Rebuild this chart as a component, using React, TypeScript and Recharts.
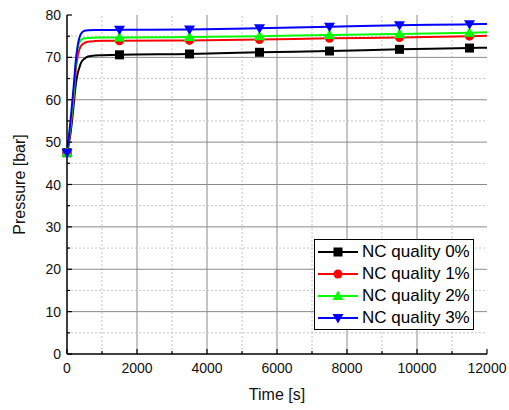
import React from 'react';
import { LineChart, Line, XAxis, YAxis, ReferenceLine, Legend } from 'recharts';

// time [s] and pressure [bar]
const times = [0, 50, 100, 150, 200, 250, 300, 350, 400, 500, 600, 800, 1000, 1500, 3500, 5500, 7500, 9500, 11500, 12000];
const nc0 = [47.5, 49.5, 52, 55.5, 59.5, 63.5, 66, 67.5, 68.7, 69.7, 70.2, 70.45, 70.5, 70.6, 70.8, 71.2, 71.5, 71.9, 72.2, 72.3];
const nc1 = [47.5, 50, 53, 57, 61.5, 67, 70, 71.8, 72.7, 73.4, 73.7, 73.85, 73.9, 73.9, 74.0, 74.2, 74.5, 74.7, 75.0, 75.1];
const nc2 = [47.5, 50.5, 54, 58, 62.5, 68.5, 72, 73.5, 74.1, 74.5, 74.6, 74.65, 74.7, 74.7, 74.8, 75.0, 75.3, 75.5, 75.8, 75.9];
const nc3 = [47.5, 51, 55, 59.5, 64, 69, 72.5, 74.5, 75.6, 76.3, 76.4, 76.45, 76.45, 76.5, 76.6, 76.9, 77.2, 77.6, 77.8, 77.9];

const markerTimes = [0, 1500, 3500, 5500, 7500, 9500, 11500];
const xTicks = [0, 1000, 2000, 3000, 4000, 5000, 6000, 7000, 8000, 9000, 10000, 11000, 12000];
const yTicks = [0, 5, 10, 15, 20, 25, 30, 35, 40, 45, 50, 55, 60, 65, 70, 75, 80];

const series = [
  { key: 'nc0', name: 'NC quality 0%', color: '#000000', shape: 'square' },
  { key: 'nc1', name: 'NC quality 1%', color: '#ff0000', shape: 'circle' },
  { key: 'nc2', name: 'NC quality 2%', color: '#00ff00', shape: 'up' },
  { key: 'nc3', name: 'NC quality 3%', color: '#0000ff', shape: 'down' },
];

const data = times.map((t, i) => ({ t, nc0: nc0[i], nc1: nc1[i], nc2: nc2[i], nc3: nc3[i] }));

const Marker = ({ shape, color, cx, cy }: any) => {
  if (shape === 'square') return <rect x={cx - 4.5} y={cy - 4.5} width={9} height={9} fill={color} />;
  if (shape === 'circle') return <circle cx={cx} cy={cy} r={4.5} fill={color} />;
  if (shape === 'up')
    return <polygon points={`${cx},${cy - 5.5} ${cx + 5.5},${cy + 4} ${cx - 5.5},${cy + 4}`} fill={color} />;
  return <polygon points={`${cx},${cy + 5.5} ${cx + 5.5},${cy - 4} ${cx - 5.5},${cy - 4}`} fill={color} />;
};

const makeDot = (shape: string, color: string) => (props: any) => {
  const { cx, cy, payload, index } = props;
  if (cx == null || !markerTimes.includes(payload.t)) return <g key={`d${index}`} />;
  return (
    <g key={`d${index}`}>
      <Marker shape={shape} color={color} cx={cx} cy={cy} />
    </g>
  );
};

const LeftTick = ({ x, y, payload }: any) => {
  const major = payload.value % 10 === 0;
  const ax = x + 6;
  return (
    <g>
      <line x1={ax} x2={ax + (major ? 5 : 3)} y1={y} y2={y} stroke="#000" strokeWidth={1.2} />
      {major && (
        <text x={x} y={y} dy="0.36em" textAnchor="end" fontSize={14} fill="#111">
          {payload.value}
        </text>
      )}
    </g>
  );
};

const BottomTick = ({ x, y, payload }: any) => {
  const major = payload.value % 2000 === 0;
  const ay = y - 8;
  return (
    <g>
      <line x1={x} x2={x} y1={ay} y2={ay - (major ? 5 : 3)} stroke="#000" strokeWidth={1.2} />
      {major && (
        <text x={x} y={y} dy="0.78em" textAnchor="middle" fontSize={14} fill="#111">
          {payload.value}
        </text>
      )}
    </g>
  );
};

const RightTick = ({ x, y, payload }: any) => {
  const major = payload.value % 10 === 0;
  return <line x1={x} x2={x - (major ? 5 : 3)} y1={y} y2={y} stroke="#444" strokeWidth={1.2} />;
};

const TopTick = ({ x, y, payload }: any) => {
  const major = payload.value % 2000 === 0;
  return <line x1={x} x2={x} y1={y} y2={y + (major ? 5 : 3)} stroke="#444" strokeWidth={1.2} />;
};

const LegendBox = () => (
  <div
    style={{
      border: '1px solid #000',
      background: '#fff',
      width: 158,
      paddingTop: 1,
      fontSize: 17,
      color: '#000',
      lineHeight: '22px',
    }}
  >
    {series.map((s) => (
      <div key={s.key} style={{ display: 'flex', alignItems: 'center', height: 22 }}>
        <svg width={42} height={22} style={{ marginLeft: 2, flex: 'none' }}>
          <line x1={1} x2={41} y1={11} y2={11} stroke={s.color} strokeWidth={2} />
          <Marker shape={s.shape} color={s.color} cx={21} cy={11} />
        </svg>
        <span style={{ marginLeft: 3, whiteSpace: 'nowrap' }}>{s.name}</span>
      </div>
    ))}
  </div>
);

export default function App() {
  return (
    <div style={{ width: 509, height: 410, background: '#fff', fontFamily: '"Liberation Sans", Arial, sans-serif' }}>
      <style>{`body{margin:0}`}</style>
      <LineChart width={509} height={410} data={data} margin={{ top: 15, right: 22, bottom: 6, left: 5 }}>
        <XAxis
          dataKey="t"
          type="number"
          domain={[0, 12000]}
          ticks={xTicks}
          interval={0}
          tickSize={0}
          tickMargin={8}
          tickLine={false}
          tick={BottomTick}
          height={50}
          axisLine={{ stroke: '#000', strokeWidth: 1.5 }}
          label={{ value: 'Time [s]', position: 'insideBottom', offset: 4, fontSize: 16, fill: '#111' }}
        />
        <XAxis
          xAxisId="top"
          orientation="top"
          type="number"
          domain={[0, 12000]}
          ticks={xTicks}
          interval={0}
          tickSize={0}
          tickMargin={0}
          tickLine={false}
          tick={TopTick}
          height={0}
          axisLine={{ stroke: '#444', strokeWidth: 1.2 }}
        />
        <YAxis
          type="number"
          domain={[0, 80]}
          ticks={yTicks}
          interval={0}
          tickSize={0}
          tickMargin={6}
          tickLine={false}
          tick={LeftTick}
          width={62}
          axisLine={{ stroke: '#000', strokeWidth: 1.5 }}
          label={{
            value: 'Pressure [bar]',
            angle: -90,
            position: 'insideLeft',
            offset: 14,
            fontSize: 16,
            fill: '#111',
            style: { textAnchor: 'middle' },
          }}
        />
        <YAxis
          yAxisId="right"
          orientation="right"
          type="number"
          domain={[0, 80]}
          ticks={yTicks}
          interval={0}
          tickSize={0}
          tickMargin={0}
          tickLine={false}
          tick={RightTick}
          width={0}
          axisLine={{ stroke: '#444', strokeWidth: 1.2 }}
        />
        {xTicks
          .filter((v) => v > 0 && v < 12000)
          .map((v) =>
            v % 2000 === 0 ? (
              <ReferenceLine key={`vx${v}`} x={v} stroke="#8a8a8a" strokeWidth={1} />
            ) : (
              <ReferenceLine key={`vx${v}`} x={v} stroke="#c4c4c4" strokeWidth={1} strokeDasharray="2 2" />
            )
          )}
        {yTicks
          .filter((v) => v > 0 && v < 80)
          .map((v) =>
            v % 10 === 0 ? (
              <ReferenceLine key={`hy${v}`} y={v} stroke="#8a8a8a" strokeWidth={1} />
            ) : (
              <ReferenceLine key={`hy${v}`} y={v} stroke="#c4c4c4" strokeWidth={1} strokeDasharray="2 2" />
            )
          )}
        {series.map((s) => (
          <Line
            key={s.key}
            dataKey={s.key}
            name={s.name}
            type="monotone"
            stroke={s.color}
            strokeWidth={2}
            dot={makeDot(s.shape, s.color)}
            activeDot={false}
            isAnimationActive={false}
          />
        ))}
        <Legend
          layout="horizontal"
          verticalAlign="middle"
          align="center"
          content={() => <LegendBox />}
          wrapperStyle={{ left: 314, top: 239, width: 'auto', height: 'auto' }}
        />
      </LineChart>
    </div>
  );
}
